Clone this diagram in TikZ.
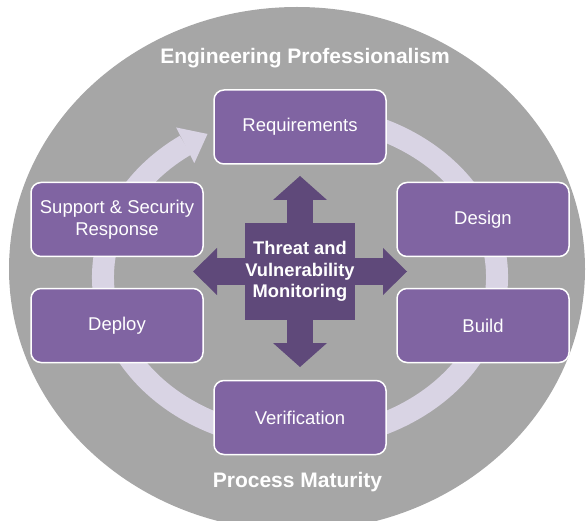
\documentclass[tikz,border=0pt]{standalone}
\usepackage{fontspec}
\setmainfont{Liberation Sans}
\usetikzlibrary{arrows.meta,bending,positioning}

\definecolor{sdlgray}{HTML}{A6A6A6}
\definecolor{sdlpurple}{HTML}{8064A2}
\definecolor{sdldark}{HTML}{5F497A}
\definecolor{sdlring}{HTML}{D9D4E4}

\begin{document}
\begin{tikzpicture}[x=1pt,y=-1pt,node distance=106pt,
  phase/.style={draw=white,line width=1.5pt,fill=sdlpurple,rounded corners=10pt,
    minimum width=172pt,minimum height=74pt,inner sep=0pt,text=white,align=center,
    font=\fontsize{18.5}{22}\selectfont},
  title/.style={text=white,font=\bfseries\fontsize{21}{25}\selectfont},
  monitor/.style={fill=sdldark,minimum width=106pt,minimum height=96pt,inner sep=0pt,
    text=white,align=center,font=\bfseries\fontsize{18.3}{21.5}\selectfont},
  spoke/.style={draw=sdldark,line width=26.5pt,
    -{Triangle[width=#1,length=24pt,line width=0pt]}},
  ringarrow/.style={draw=sdlring,line width=22pt,
    -{Triangle[width=40pt,length=25pt,line width=0pt]}}]

\useasboundingbox (0,0) rectangle (586,521);
\clip (0,0) rectangle (586,521);

\fill[sdlgray] (297,269) ellipse [x radius=288,y radius=262];

\draw[ringarrow] (300,277) ++(-80:197 and 162)
   arc [start angle=-80,end angle=242,x radius=197,y radius=162];

\node[phase]   (req)      at (300,127)    {Requirements};
\node[phase]   (support)  at (117,219.5)  {Support \& Security\\Response};
\node[phase]   (deploy)   [below of=support]  {Deploy};
\node[phase]   (design)   at (483,219.5)  {Design};
\node[phase]   (build)    [below of=design]   {Build};
\node[phase]   (verif)    at (300,417.5)  {Verification};

\node[monitor] (threat)   at (300,271.5)  {Threat and\\Vulnerability\\Monitoring};
\coordinate (tup)    at (300,176);
\coordinate (tdown)  at (300,367);
\coordinate (tleft)  at (193,271.5);
\coordinate (tright) at (407,271.5);

\draw[spoke=54pt] (threat) -- (tup);
\draw[spoke=54pt] (threat) -- (tdown);
\draw[spoke=47pt] (threat) -- (tleft);
\draw[spoke=47pt] (threat) -- (tright);

\node[title]   (eng)   at (305,58)   {Engineering Professionalism};
\node[title]   (proc)  at (297.5,482) {Process Maturity};

\end{tikzpicture}
\end{document}
